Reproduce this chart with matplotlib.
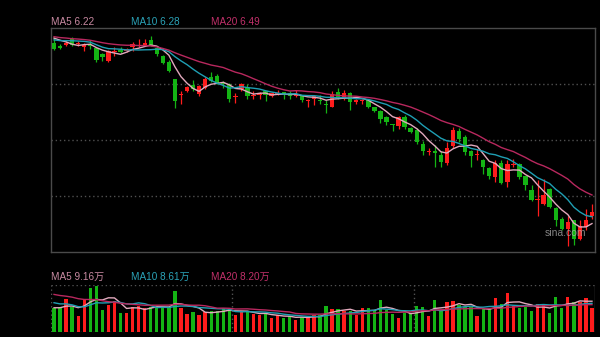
import numpy as np
import pandas as pd
import matplotlib
matplotlib.use('Agg')
import matplotlib.pyplot as plt

# daily k-line, 90 sessions (prices in yuan, volume in 万手)
opens = [7.93, 7.90, 7.91, 7.97, 7.92, 7.89, 7.91, 7.88, 7.82, 7.76,
         7.84, 7.86, 7.85, 7.89, 7.90, 7.91, 7.96, 7.88, 7.80, 7.75,
         7.59, 7.43, 7.47, 7.53, 7.44, 7.50, 7.60, 7.61, 7.55, 7.54,
         7.41, 7.49, 7.50, 7.42, 7.43, 7.47, 7.42, 7.44, 7.46, 7.45,
         7.42, 7.42, 7.38, 7.40, 7.39, 7.35, 7.32, 7.46, 7.40, 7.45,
         7.37, 7.38, 7.39, 7.32, 7.28, 7.22, 7.16, 7.14, 7.22, 7.12,
         7.10, 6.97, 6.89, 6.90, 6.86, 6.79, 6.95, 7.09, 7.03, 6.90,
         6.86, 6.82, 6.74, 6.65, 6.79, 6.61, 6.77, 6.78, 6.66, 6.53,
         6.44, 6.40, 6.54, 6.36, 6.26, 6.16, 6.25, 6.07, 6.18, 6.28]
highs = [7.98, 7.92, 7.96, 7.98, 7.95, 7.93, 7.96, 7.88, 7.83, 7.86,
         7.89, 7.89, 7.88, 7.94, 7.97, 7.97, 7.99, 7.89, 7.81, 7.77,
         7.59, 7.47, 7.52, 7.58, 7.53, 7.60, 7.65, 7.63, 7.57, 7.55,
         7.45, 7.55, 7.54, 7.47, 7.46, 7.47, 7.46, 7.48, 7.46, 7.47,
         7.48, 7.43, 7.40, 7.43, 7.43, 7.39, 7.47, 7.50, 7.48, 7.46,
         7.40, 7.40, 7.40, 7.32, 7.29, 7.23, 7.16, 7.23, 7.24, 7.13,
         7.12, 7.00, 6.93, 6.96, 6.90, 6.99, 7.13, 7.12, 7.05, 6.91,
         6.92, 6.83, 6.75, 6.82, 6.82, 6.82, 6.83, 6.79, 6.66, 6.58,
         6.63, 6.64, 6.55, 6.37, 6.27, 6.28, 6.25, 6.25, 6.35, 6.40]
lows = [7.86, 7.87, 7.90, 7.90, 7.90, 7.85, 7.87, 7.75, 7.76, 7.75,
        7.80, 7.83, 7.84, 7.85, 7.89, 7.90, 7.90, 7.80, 7.73, 7.65,
        7.31, 7.35, 7.46, 7.47, 7.42, 7.49, 7.56, 7.54, 7.50, 7.37,
        7.36, 7.47, 7.40, 7.40, 7.40, 7.38, 7.41, 7.43, 7.40, 7.40,
        7.41, 7.37, 7.32, 7.34, 7.35, 7.26, 7.32, 7.40, 7.39, 7.29,
        7.35, 7.35, 7.31, 7.27, 7.17, 7.15, 7.09, 7.11, 7.11, 7.07,
        6.97, 6.86, 6.86, 6.75, 6.75, 6.77, 6.93, 6.99, 6.86, 6.75,
        6.82, 6.68, 6.64, 6.61, 6.59, 6.56, 6.75, 6.64, 6.53, 6.43,
        6.28, 6.39, 6.36, 6.19, 6.15, 6.00, 6.01, 6.06, 6.15, 6.26]
closes = [7.87, 7.88, 7.93, 7.91, 7.93, 7.91, 7.90, 7.77, 7.79, 7.85,
          7.85, 7.84, 7.87, 7.92, 7.91, 7.93, 7.91, 7.82, 7.74, 7.66,
          7.38, 7.44, 7.51, 7.49, 7.52, 7.59, 7.57, 7.55, 7.54, 7.40,
          7.42, 7.54, 7.42, 7.43, 7.44, 7.43, 7.45, 7.45, 7.44, 7.42,
          7.44, 7.39, 7.39, 7.42, 7.38, 7.34, 7.44, 7.41, 7.45, 7.37,
          7.39, 7.39, 7.32, 7.28, 7.21, 7.18, 7.15, 7.22, 7.13, 7.08,
          6.99, 6.90, 6.90, 6.88, 6.80, 6.93, 7.10, 7.02, 6.89, 6.85,
          6.87, 6.75, 6.66, 6.79, 6.60, 6.78, 6.78, 6.65, 6.58, 6.44,
          6.45, 6.48, 6.37, 6.25, 6.16, 6.23, 6.07, 6.19, 6.25, 6.32]
volumes = [7.05, 7.05, 9.82, 7.53, 4.76, 9.52, 13.0, 13.77, 6.55, 8.03,
           9.31, 5.56, 5.56, 7.53, 7.82, 7.05, 7.53, 7.53, 7.53, 7.53,
           12.2, 7.05, 5.27, 6.04, 5.06, 6.04, 6.25, 6.25, 7.05, 6.84,
           5.06, 6.04, 6.04, 5.27, 5.06, 5.27, 4.25, 5.06, 4.08, 4.76,
           3.66, 4.55, 4.55, 5.06, 5.06, 7.74, 6.84, 6.75, 6.25, 6.25,
           5.06, 7.23, 7.05, 6.55, 9.52, 6.55, 5.36, 4.08, 5.56, 5.74,
           7.74, 7.35, 4.76, 9.52, 6.55, 8.84, 9.22, 8.03, 7.53, 7.53,
           4.76, 7.05, 6.84, 10.03, 8.24, 11.69, 7.74, 7.05, 7.53, 6.34,
           8.24, 8.03, 5.56, 10.5, 7.23, 10.5, 9.01, 9.01, 10.03, 7.23]

# sessions before the window, only used to warm up the moving averages
hist_close = [8.05, 8.02, 8.04, 7.99, 8.01, 8.03, 8.00, 8.02, 8.04, 7.98,
              7.95, 7.93, 7.92, 7.96, 7.94, 7.98, 8.01, 8.02, 7.99]
hist_vol = [13.5, 14.0, 13.2, 13.8, 14.1, 13.4, 13.9, 13.6, 13.7, 13.3,
            10.5, 9.8, 10.4, 10.1, 10.2, 7.0, 7.5, 7.3, 7.2]

ma_periods = [5, 10, 20]
price_labels = ['MA5 6.22', 'MA10 6.28', 'MA20 6.49']
vol_labels = ['MA5 9.16万', 'MA10 8.61万', 'MA20 8.20万']

RED = '#ff1c1c'
GREEN = '#14b414'
ma_line_colors = ['#e2a9bd', '#1f9fb4', '#b8285e']
ma_text_colors = ['#c98aa2', '#2ba3b8', '#c2306a']
FONT = ['Liberation Sans', 'Noto Sans CJK SC']


def moving_avg(hist, vals, n):
    s = pd.Series(hist + vals)
    return s.rolling(n, min_periods=1).mean().iloc[len(hist):].values


o = np.array(opens)
c = np.array(closes)
x = np.arange(len(c))
cols = np.where(c >= o, RED, GREEN)

fig = plt.figure(figsize=(6, 3.37), dpi=100, facecolor='black')
ax = fig.add_axes([51 / 600, 85 / 337, 544 / 600, 224 / 337])
axv = fig.add_axes([51 / 600, 5 / 337, 544 / 600, 47 / 337])

# --- price panel
ax.set_facecolor('black')
lo, hi = 5.942, 8.07
for f in (0.25, 0.5, 0.75):
    ax.axhline(lo + f * (hi - lo), color='#505050', lw=1, ls=(0, (1, 2)), zorder=0)

ax.vlines(x, lows, highs, colors=cols, lw=0.9, zorder=2)
ax.bar(x, np.maximum(np.abs(c - o), 0.009), bottom=np.minimum(o, c),
       width=0.72, color=cols, linewidth=0, zorder=3)

for n, col in zip(ma_periods, ma_line_colors):
    ax.plot(x, moving_avg(hist_close, closes, n), color=col, lw=1.0, zorder=4)

ax.set_xlim(-0.5, len(c) - 0.5)
ax.set_ylim(lo, hi)
ax.set_xticks([])
ax.set_yticks([])
for sp in ax.spines.values():
    sp.set_color('#4a4a4a')
    sp.set_linewidth(1)

# --- volume panel
axv.set_facecolor('black')
axv.bar(x, volumes, width=0.55, color=cols, linewidth=0, zorder=2)
for n, col in zip(ma_periods, ma_line_colors):
    axv.plot(x, moving_avg(hist_vol, volumes, n), color=col, lw=1.0, zorder=3)

axv.set_xlim(-0.5, len(c) - 0.5)
axv.set_ylim(0, 13.98)
axv.set_xticks([])
axv.set_yticks([])
for sp in axv.spines.values():
    sp.set_visible(False)
dot = dict(color='#505050', lw=1, ls=(0, (1, 2)), zorder=1)
axv.axhline(13.98, **dot)
axv.axhline(0, **dot)
axv.axvline(-0.5, **dot)
axv.axvline(29.5, **dot)
axv.axvline(59.5, **dot)
axv.axvline(len(c) - 0.5, color='#4a4a4a', lw=1)

# --- labels
for i, (t, col) in enumerate(zip(price_labels, ma_text_colors)):
    fig.text((51 + 80 * i) / 600, 1 - 22 / 337, t, color=col, fontsize=7.2,
             va='center', ha='left', family=FONT)
for i, (t, col) in enumerate(zip(vol_labels, ma_text_colors)):
    fig.text((51 + 80 * i) / 600, 1 - 276.5 / 337, t, color=col, fontsize=7.2,
             va='center', ha='left', family=FONT)

fig.text(565 / 600, 1 - 233 / 337, 'sina.com', color='#b0b0b0', alpha=0.75,
         fontsize=7.5, ha='center', va='center', family=FONT, zorder=10)

fig.savefig('out.png', dpi=100, facecolor='black')
